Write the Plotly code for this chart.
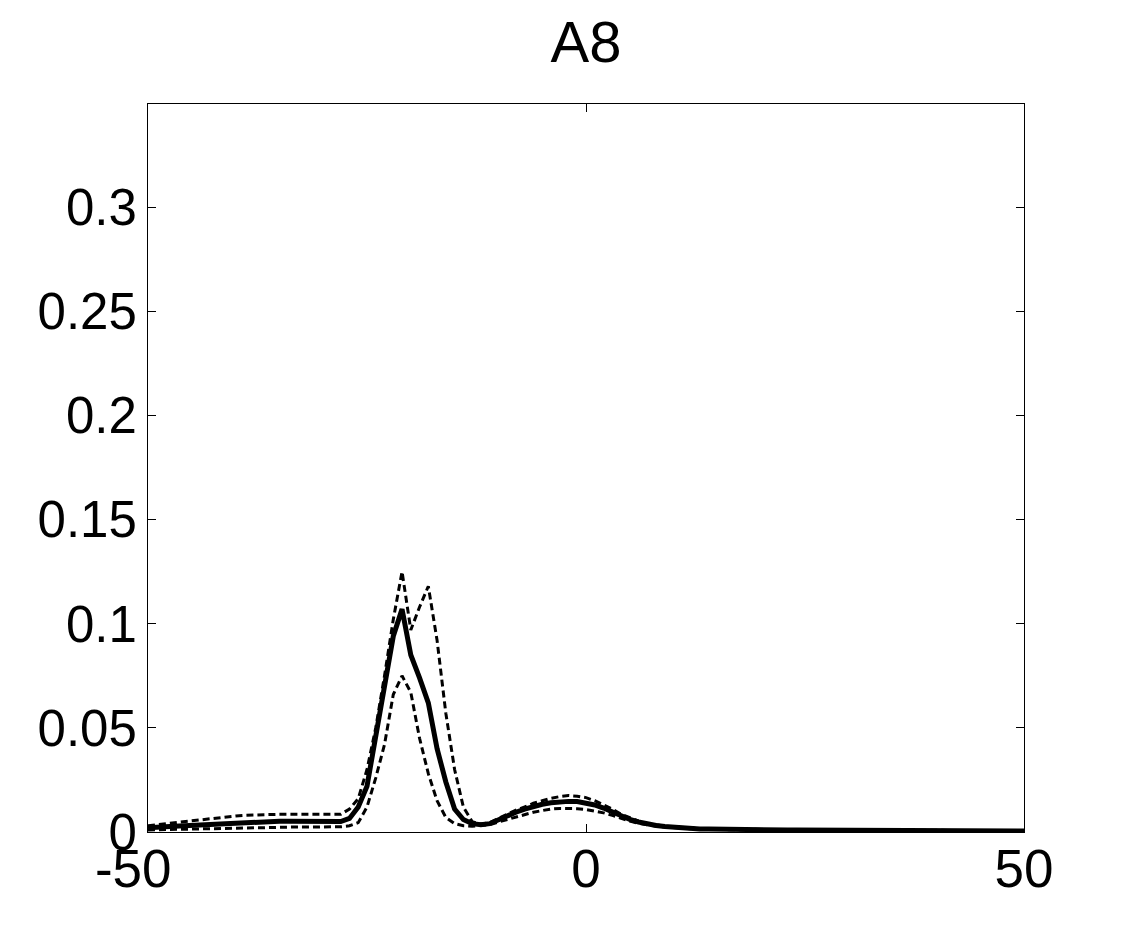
import plotly.graph_objects as go

x_vals = list(range(-50, 51))

mean_vals = [
    0.0020, 0.0020, 0.0025, 0.0028, 0.0030, 0.0033, 0.0036, 0.0040, 0.0042, 0.0045,  # -50..-41
    0.0047, 0.0049, 0.0050, 0.0051, 0.0052, 0.0052, 0.0052, 0.0051, 0.0050, 0.0049,  # -40..-31
    0.0048, 0.0048, 0.0050, 0.0065, 0.0120, 0.0220, 0.0460, 0.0700, 0.0940, 0.1070,  # -30..-21
    0.0850, 0.0740, 0.0620, 0.0400, 0.0240, 0.0110, 0.0060, 0.0040, 0.0035, 0.0040,  # -20..-11
    0.0060, 0.0080, 0.0095, 0.0110, 0.0123, 0.0133, 0.0140, 0.0145, 0.0147, 0.0146,  # -10..-1
    0.0140, 0.0130, 0.0115, 0.0098, 0.0075, 0.0060, 0.0048, 0.0038, 0.0031, 0.0026,  # 0..9
    0.0022, 0.0019, 0.0017, 0.0015, 0.0014, 0.0013, 0.0013, 0.0012, 0.0012, 0.0011,  # 10..19
    0.0011, 0.0011, 0.0010, 0.0010, 0.0010, 0.0010, 0.0009, 0.0009, 0.0009, 0.0009,  # 20..29
    0.0009, 0.0008, 0.0008, 0.0008, 0.0008, 0.0008, 0.0007, 0.0007, 0.0007, 0.0007,  # 30..39
    0.0007, 0.0006, 0.0006, 0.0006, 0.0006, 0.0006, 0.0006, 0.0005, 0.0005, 0.0005,  # 40..49
    0.0005,  # 50
]

upper_vals = [
    0.0030, 0.0035, 0.0040, 0.0045, 0.0050, 0.0055, 0.0060, 0.0065, 0.0070, 0.0074,  # -50..-41
    0.0077, 0.0080, 0.0082, 0.0083, 0.0084, 0.0085, 0.0085, 0.0085, 0.0084, 0.0083,  # -40..-31
    0.0082, 0.0082, 0.0085, 0.0110, 0.0160, 0.0300, 0.0500, 0.0750, 0.1020, 0.1250,  # -30..-21
    0.0970, 0.1080, 0.1180, 0.0920, 0.0570, 0.0300, 0.0120, 0.0050, 0.0038, 0.0045,  # -20..-11
    0.0065, 0.0085, 0.0105, 0.0120, 0.0138, 0.0150, 0.0162, 0.0170, 0.0175, 0.0172,  # -10..-1
    0.0165, 0.0150, 0.0130, 0.0110, 0.0085, 0.0068, 0.0052, 0.0041, 0.0033, 0.0028,  # 0..9
    0.0024, 0.0021, 0.0019, 0.0017, 0.0016, 0.0015, 0.0014, 0.0014, 0.0013, 0.0013,  # 10..19
    0.0012, 0.0012, 0.0012, 0.0011, 0.0011, 0.0011, 0.0010, 0.0010, 0.0010, 0.0010,  # 20..29
    0.0010, 0.0009, 0.0009, 0.0009, 0.0009, 0.0009, 0.0008, 0.0008, 0.0008, 0.0008,  # 30..39
    0.0008, 0.0007, 0.0007, 0.0007, 0.0007, 0.0007, 0.0007, 0.0006, 0.0006, 0.0006,  # 40..49
    0.0006,  # 50
]

lower_vals = [
    0.0010, 0.0011, 0.0012, 0.0013, 0.0014, 0.0015, 0.0016, 0.0017, 0.0018, 0.0019,  # -50..-41
    0.0020, 0.0021, 0.0022, 0.0023, 0.0023, 0.0024, 0.0024, 0.0024, 0.0024, 0.0024,  # -40..-31
    0.0024, 0.0024, 0.0025, 0.0030, 0.0045, 0.0120, 0.0260, 0.0420, 0.0660, 0.0750,  # -30..-21
    0.0670, 0.0450, 0.0280, 0.0150, 0.0070, 0.0040, 0.0030, 0.0028, 0.0030, 0.0035,  # -20..-11
    0.0048, 0.0060, 0.0072, 0.0083, 0.0095, 0.0103, 0.0110, 0.0113, 0.0114, 0.0112,  # -10..-1
    0.0108, 0.0100, 0.0092, 0.0080, 0.0065, 0.0052, 0.0042, 0.0034, 0.0028, 0.0024,  # 0..9
    0.0020, 0.0017, 0.0015, 0.0013, 0.0012, 0.0011, 0.0011, 0.0010, 0.0010, 0.0009,  # 10..19
    0.0009, 0.0009, 0.0008, 0.0008, 0.0008, 0.0008, 0.0007, 0.0007, 0.0007, 0.0007,  # 20..29
    0.0007, 0.0006, 0.0006, 0.0006, 0.0006, 0.0006, 0.0005, 0.0005, 0.0005, 0.0005,  # 30..39
    0.0005, 0.0004, 0.0004, 0.0004, 0.0004, 0.0004, 0.0004, 0.0003, 0.0003, 0.0003,  # 40..49
    0.0003,  # 50
]

x_tickvals = [-50, 0, 50]
x_ticktext = ["-50\u00a0\u00a0", "0", "50"]
y_tickvals = [0, 0.05, 0.1, 0.15, 0.2, 0.25, 0.3]
y_ticktext = ["0", "0.05", "0.1", "0.15", "0.2", "0.25", "0.3"]

fig = go.Figure()
fig.add_trace(go.Scatter(x=x_vals, y=upper_vals, mode="lines",
                         line=dict(color="black", width=3, dash="7px,4px"), showlegend=False))
fig.add_trace(go.Scatter(x=x_vals, y=lower_vals, mode="lines",
                         line=dict(color="black", width=3, dash="7px,4px"), showlegend=False))
fig.add_trace(go.Scatter(x=x_vals, y=mean_vals, mode="lines",
                         line=dict(color="black", width=5), showlegend=False))

font_family = "Liberation Sans, Arial, sans-serif"
W, H = 1124, 928
fig.update_layout(
    width=W, height=H,
    margin=dict(l=140, r=108, t=96, b=104),
    paper_bgcolor="white", plot_bgcolor="white",
    title=dict(text="A8", xref="paper", x=0.5, xanchor="center",
               yref="container", y=1 - 34 / H, yanchor="middle",
               font=dict(family=font_family, size=58, color="black")),
    font=dict(family=font_family, color="black"),
)
fig.update_xaxes(range=[-50, 50], tickvals=x_tickvals, ticktext=x_ticktext,
                 ticks="inside", ticklen=8, tickcolor="black", mirror="ticks",
                 showline=True, linecolor="black", linewidth=1, showgrid=False, zeroline=False,
                 ticklabelstandoff=-10,
                 tickfont=dict(size=53, family=font_family, color="black"))
fig.update_yaxes(range=[0, 0.3495], tickvals=y_tickvals, ticktext=y_ticktext,
                 ticks="inside", ticklen=8, tickcolor="black", mirror="ticks",
                 showline=True, linecolor="black", linewidth=1, showgrid=False, zeroline=False,
                 tickfont=dict(size=51, family=font_family, color="black"))

fig.write_html("out.html")
